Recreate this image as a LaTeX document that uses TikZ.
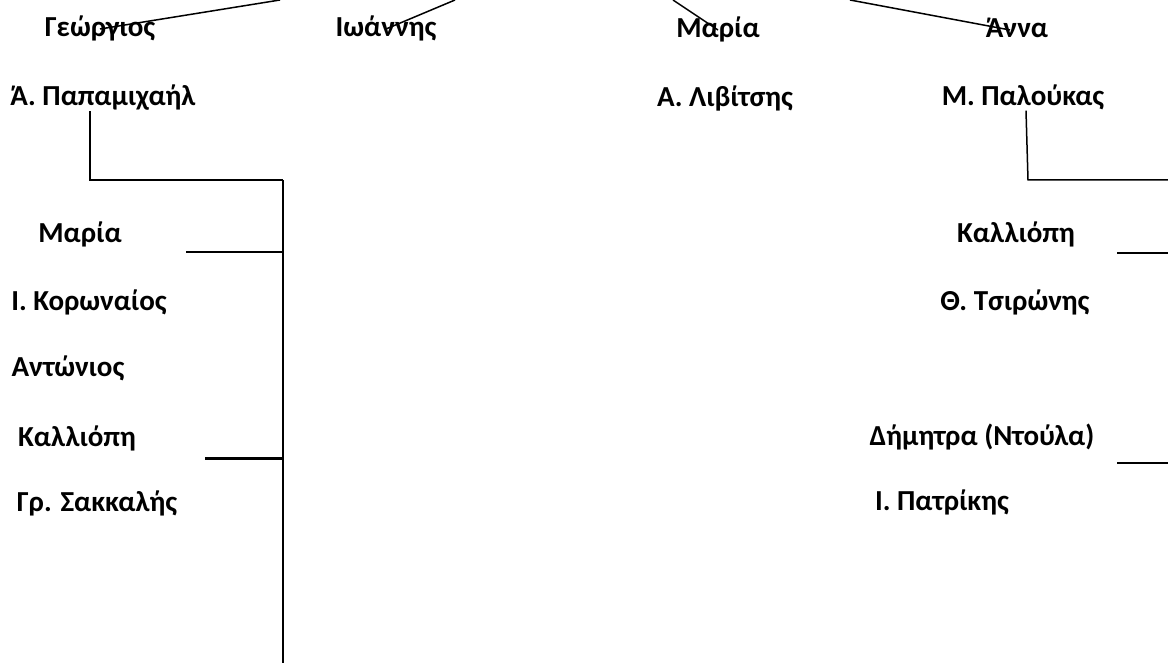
\documentclass[tikz,border=0pt]{standalone}
\usepackage{fontspec}
\setmainfont{Carlito}
\usetikzlibrary{positioning}

\begin{document}
\begin{tikzpicture}[
  x=1pt,y=-1pt,
  person/.style={font=\fontsize{29}{34}\selectfont\bfseries,anchor=base,inner sep=0pt,text height=0.78em},
  link/.style={line width=1.5pt},
  spine/.style={line width=1.9pt},
  heavy/.style={line width=3pt}
]
\useasboundingbox (0,0) rectangle (1168,663);
% top row
\node[person] (geo) at (100,37) {Γεώργιος};
\node[person] (ioa) at (386,37) {Ιωάννης};
\node[person] (mar) at (718,38) {Μαρία};
\node[person] (ann) at (1017,38) {Άννα};
% spouses
\node[person] (papam) at (103,106) {Ά. Παπαμιχαήλ};
\node[person] (liv) at (725,107) {Α. Λιβίτσης};
\node[person] (pal) at (1023,106) {Μ. Παλούκας};
% left branch
\node[person] (maria) at (80,243) {Μαρία};
\node[person] (kor) at (89,310) {Ι. Κορωναίος};
\node[person] (ant) at (68,376) {Αντώνιος};
\node[person] (kal) at (77,446) {Καλλιόπη};
\node[person] (sak) at (97,511) {Γρ. Σακκαλής};
% right branch
\node[person] (kalR) at (1016,243) {Καλλιόπη};
\node[person] (tsi) at (1015,310) {Θ. Τσιρώνης};
\node[person] (dim) at (982,445) {Δήμητρα (Ντούλα)};
\node[person] (pat) at (942,510) {Ι. Πατρίκης};
% free ends
\coordinate (geoTop) at (280,0);
\coordinate (ioaTop) at (455,0);
\coordinate (marTop) at (673,0);
\coordinate (annTop) at (850,0);
\coordinate (spineL) at (283,180);
\coordinate (spineEnd) at (283,663);
\coordinate (mariaLink) at (186,252);
\coordinate (kalLink) at (205,458);
\coordinate (palBend) at (1028,180);
\coordinate (palEnd) at (1168,180);
\coordinate (kalRLink) at (1117,253);
\coordinate (dimLink) at (1117,463);
% connectors
\draw[link] (geo.north) -- (geoTop);
\draw[link] (ioa.north) -- (ioaTop);
\draw[link] (mar.north) -- (marTop);
\draw[link] ([xshift=-7pt]ann.north) -- (annTop);
\draw[link] ([xshift=-13pt]papam.south) |- (spineL);
\draw[spine] (spineL) -- (spineEnd);
\draw[link] (mariaLink) -- (mariaLink -| spineL);
\draw[heavy] (kalLink) -- (kalLink -| spineL);
\draw[link] ([xshift=3pt]pal.south) -- (palBend) -- (palEnd);
\draw[link] (kalRLink) -- (kalRLink -| palEnd);
\draw[link] (dimLink) -- (dimLink -| palEnd);
\end{tikzpicture}
\end{document}
